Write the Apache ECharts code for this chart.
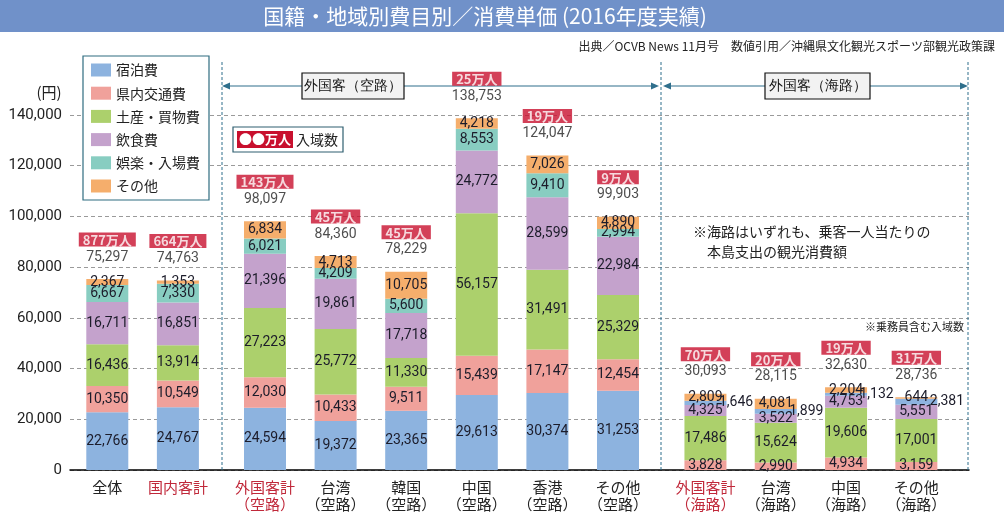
<!DOCTYPE html>
<html>
<head>
<meta charset="utf-8">
<script src="https://cdn.jsdelivr.net/npm/echarts@6/dist/echarts.min.js"></script>
<style>
html,body{margin:0;padding:0;background:#fff;}
#c{width:1004px;height:515px;}
</style>
</head>
<body>
<div id="c"></div>
<script>
// ---------- DATA ----------
const catTotal = ['全体', '国内客計'];
const catAir = ['外国客計\n（空路）', '台湾\n（空路）', '韓国\n（空路）', '中国\n（空路）', '香港\n（空路）', 'その他\n（空路）'];
const catSea = ['外国客計\n（海路）', '台湾\n（海路）', '中国\n（海路）', 'その他\n（海路）'];

const seriesNames = ['宿泊費', '県内交通費', '土産・買物費', '飲食費', '娯楽・入場費', 'その他'];

// values in category order: 全体, 国内客計, 空路 x6, 海路 x4
const lodging       = [22766, 24767, 24594, 19372, 23365, 29613, 30374, 31253, 1646, 1899, 1132, 2381];
const transport     = [10350, 10549, 12030, 10433,  9511, 15439, 17147, 12454, 3828, 2990, 4934, 3159];
const souvenir      = [16436, 13914, 27223, 25772, 11330, 56157, 31491, 25329, 17486, 15624, 19606, 17001];
const food          = [16711, 16851, 21396, 19861, 17718, 24772, 28599, 22984, 4325, 3522, 4753, 5551];
const entertainment = [6667, 7330, 6021, 4209, 5600, 8553, 9410, 2994, null, null, null, null];
const other         = [2367, 1353, 6834, 4713, 10705, 4218, 7026, 4890, 2809, 4081, 2204, 644];
const totals        = [75297, 74763, 98097, 84360, 78229, 138753, 124047, 99903, 30093, 28115, 32630, 28736];
const visitors      = ['877万人', '664万人', '143万人', '45万人', '45万人', '25万人', '19万人', '9万人', '70万人', '20万人', '19万人', '31万人'];

const yTicks = { min: 0, max: 140000, interval: 20000 };

// ---------- STYLE ----------
const colors = {
  '宿泊費': '#8db3df',
  '県内交通費': '#f0a19b',
  '土産・買物費': '#acd06c',
  '飲食費': '#c4a2cc',
  '娯楽・入場費': '#88cdc1',
  'その他': '#f5ae6c'
};
const valuesByName = {
  '宿泊費': lodging, '県内交通費': transport, '土産・買物費': souvenir,
  '飲食費': food, '娯楽・入場費': entertainment, 'その他': other
};
const FONT = 'Roboto, "Noto Sans CJK JP", sans-serif';
const JFONT = '"Noto Sans CJK JP", sans-serif';
const RED = '#c8102e';
const fmt = v => Number(v).toLocaleString('en-US');

const groups = [catTotal, catAir, catSea];
const offsets = [0, catTotal.length, catTotal.length + catAir.length];
const slice = (arr, g) => arr.slice(offsets[g], offsets[g] + groups[g].length);

const gridTop = 115, gridBottom = 45;
const grids = [
  { left: 70, right: 35, top: gridTop, bottom: gridBottom },
  { left: 72, width: 141.2, top: gridTop, bottom: gridBottom },
  { left: 229.7, width: 423.6, top: gridTop, bottom: gridBottom },
  { left: 670.3, width: 281.2, top: gridTop, bottom: gridBottom }
];

const xAxes = [{
  gridIndex: 0, type: 'category', data: [''],
  axisLine: { lineStyle: { color: '#000', width: 1.5 } },
  axisTick: { show: false }, axisLabel: { show: false }
}];
const yAxes = [{
  gridIndex: 0, type: 'value', min: yTicks.min, max: yTicks.max, interval: yTicks.interval,
  axisLine: { show: false }, axisTick: { show: false },
  axisLabel: { fontSize: 15, color: '#222', fontFamily: FONT, margin: 8, formatter: v => fmt(v) },
  splitLine: { lineStyle: { color: '#9a9a9a', type: [4, 3], width: 1 } }
}];
for (let g = 0; g < 3; g++) {
  xAxes.push({
    gridIndex: g + 1, type: 'category', data: groups[g],
    axisLine: { show: false }, axisTick: { show: false },
    axisLabel: {
      fontSize: 15, fontFamily: JFONT, margin: 9, lineHeight: 17, interval: 0,
      color: (v) => (v.indexOf('客計') >= 0 ? '#c0283a' : '#222')
    }
  });
  yAxes.push({
    gridIndex: g + 1, type: 'value', min: yTicks.min, max: yTicks.max, interval: yTicks.interval,
    show: false, splitLine: { show: false }
  });
}

const series = [];
const segLabel = { show: true, fontSize: 14, color: '#1c1c2a', fontFamily: FONT, formatter: p => fmt(p.value) };
for (let g = 0; g < 3; g++) {
  const order = g < 2
    ? ['宿泊費', '県内交通費', '土産・買物費', '飲食費', '娯楽・入場費', 'その他']
    : ['県内交通費', '土産・買物費', '飲食費', '宿泊費', 'その他'];
  order.forEach(name => {
    const label = Object.assign({}, segLabel);
    if (g === 2 && name === '宿泊費') {
      Object.assign(label, { position: ['82%', '50%'], align: 'left', verticalAlign: 'middle' });
    }
    series.push({
      type: 'bar', name: name, stack: 'st' + g,
      xAxisIndex: g + 1, yAxisIndex: g + 1,
      barWidth: 42, barGap: '-100%',
      itemStyle: { color: colors[name] },
      label: label,
      data: slice(valuesByName[name], g)
    });
  });
  const vis = slice(visitors, g);
  series.push({
    type: 'scatter', name: 'total' + g,
    xAxisIndex: g + 1, yAxisIndex: g + 1,
    symbolSize: 1, itemStyle: { color: 'rgba(0,0,0,0)' },
    z: 5,
    label: {
      show: true, position: 'top', distance: 12,
      formatter: p => '{b|' + vis[p.dataIndex] + '}\n{t|' + fmt(p.value) + '}',
      rich: {
        b: { backgroundColor: RED, color: '#fff', fontWeight: 'bold', fontSize: 13, fontFamily: JFONT,
             padding: [1, 4, 0, 4], lineHeight: 16, align: 'center' },
        t: { fontSize: 14, color: '#222', fontFamily: FONT, lineHeight: 19, align: 'center' }
      }
    },
    data: slice(totals, g)
  });
}

const teal = '#2f6f8c';
function arrow(x1, x2, y) {
  return [
    { type: 'line', z: 1, shape: { x1: x1 + 4, y1: y, x2: x2 - 4, y2: y }, style: { stroke: teal, lineWidth: 1.2 } },
    { type: 'polygon', z: 1, shape: { points: [[x1, y], [x1 + 8, y - 3.5], [x1 + 8, y + 3.5]] }, style: { fill: teal } },
    { type: 'polygon', z: 1, shape: { points: [[x2, y], [x2 - 8, y - 3.5], [x2 - 8, y + 3.5]] }, style: { fill: teal } }
  ];
}
function vdash(x) {
  return { type: 'line', z: 1, shape: { x1: x, y1: 62, x2: x, y2: 470 }, style: { stroke: teal, lineWidth: 1, lineDash: [3, 2] } };
}
function boxLabel(x, y, w, h, text) {
  return [
    { type: 'rect', z: 3, shape: { x: x, y: y, width: w, height: h }, style: { fill: '#f2f2f2', stroke: '#111', lineWidth: 1.2 } },
    { type: 'text', z: 4, style: { x: x + w / 2, y: y + h / 2, text: text, align: 'center', verticalAlign: 'middle', fontSize: 14, fill: '#111', font: '14px ' + JFONT } }
  ];
}

const graphic = [
  { type: 'rect', z: 0, shape: { x: 0, y: 0, width: 1004, height: 32 }, style: { fill: '#7091c9' } },
  { type: 'text', z: 1, style: { x: 485, y: 16, text: '国籍・地域別費目別／消費単価 (2016年度実績)', align: 'center', verticalAlign: 'middle', fill: '#fff', font: '21px ' + JFONT } },
  { type: 'text', z: 1, style: { x: 995, y: 46, text: '出典／OCVB News 11月号　数値引用／沖縄県文化観光スポーツ部観光政策課', align: 'right', verticalAlign: 'middle', fill: '#222', font: '12px ' + JFONT } },
  { type: 'text', z: 1, style: { x: 49, y: 92, text: '(円)', align: 'center', verticalAlign: 'middle', fill: '#222', font: '15px ' + JFONT } },
  vdash(222), vdash(661), vdash(968),
  ...arrow(222, 659, 86),
  ...arrow(663, 968, 86),
  ...boxLabel(302, 73, 102, 26, '外国客（空路）'),
  ...boxLabel(765, 73, 105, 26, '外国客（海路）'),
  // key box
  { type: 'rect', z: 3, shape: { x: 233, y: 127, width: 110, height: 25 }, style: { fill: '#fff', stroke: '#2f5f70', lineWidth: 1.2 } },
  { type: 'rect', z: 4, shape: { x: 237, y: 131, width: 56, height: 17 }, style: { fill: RED } },
  { type: 'text', z: 5, style: { x: 265, y: 139.5, text: '●●万人', align: 'center', verticalAlign: 'middle', fill: '#fff', font: 'bold 13px ' + JFONT } },
  { type: 'text', z: 5, style: { x: 296, y: 139.5, text: '入域数', align: 'left', verticalAlign: 'middle', fill: '#222', font: '14px ' + JFONT } },
  // notes
  { type: 'text', z: 1, style: { x: 693, y: 232, text: '※海路はいずれも、乗客一人当たりの', align: 'left', verticalAlign: 'middle', fill: '#222', font: '14px ' + JFONT } },
  { type: 'text', z: 1, style: { x: 707, y: 252, text: '本島支出の観光消費額', align: 'left', verticalAlign: 'middle', fill: '#222', font: '14px ' + JFONT } },
  { type: 'text', z: 1, style: { x: 964, y: 327, text: '※乗務員含む入域数', align: 'right', verticalAlign: 'middle', fill: '#222', font: '11px ' + JFONT } }
];

const chart = echarts.init(document.getElementById('c'));
chart.setOption({
  animation: false,
  backgroundColor: '#fff',
  grid: grids,
  xAxis: xAxes,
  yAxis: yAxes,
  legend: {
    data: seriesNames, orient: 'vertical', left: 83, top: 56,
    itemWidth: 20, itemHeight: 13, itemGap: 9.2,
    padding: [7, 9, 7, 8], borderColor: '#2f6d80', borderWidth: 1.2, backgroundColor: '#fff',
    icon: 'rect', z: 6,
    textStyle: { fontSize: 14, color: '#222', fontFamily: JFONT }
  },
  graphic: graphic,
  series: series
});
</script>
</body>
</html>
